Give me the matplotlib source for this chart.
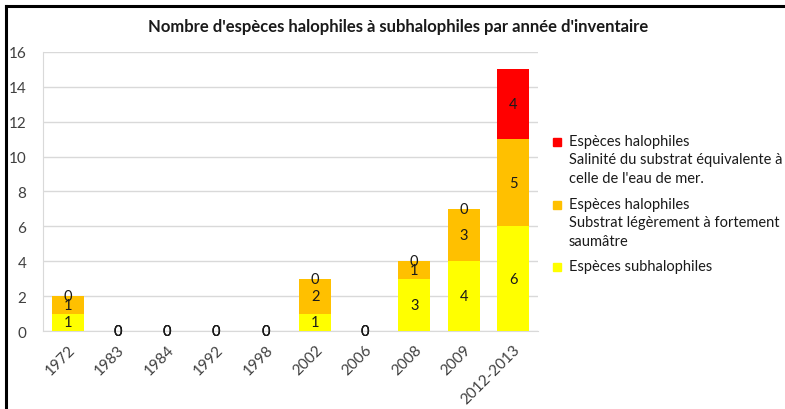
import matplotlib.pyplot as plt
import numpy as np

plt.rcParams['font.family'] = ['Lato', 'DejaVu Sans']

annees = ["1972", "1983", "1984", "1992", "1998", "2002", "2006", "2008", "2009", "2012-2013"]
subhalophiles = [1, 0, 0, 0, 0, 1, 0, 3, 4, 6]
halo_saumatre = [1, 0, 0, 0, 0, 2, 0, 1, 3, 5]
halo_mer = [0, 0, 0, 0, 0, 0, 0, 0, 0, 4]

series = [
    ("Espèces subhalophiles", subhalophiles, "#FFFF00"),
    ("Espèces halophiles\nSubstrat légèrement à fortement\nsaumâtre", halo_saumatre, "#FFC000"),
    ("Espèces halophiles\nSalinité du substrat équivalente à\ncelle de l'eau de mer.", halo_mer, "#FF0000"),
]

fig = plt.figure(figsize=(7.85, 4.10), dpi=100)
ax = fig.add_axes([0.0548, 0.19, 0.6305, 0.681])

x = np.arange(len(annees))
bottom = np.zeros(len(annees))
for label, vals, color in series:
    bars = ax.bar(x, vals, 0.64, bottom=bottom, color=color, label=label, zorder=3)
    ax.bar_label(bars, labels=[str(v) for v in vals], label_type='center',
                 fontsize=10.5, color='#1a1a1a', zorder=4)
    bottom += np.array(vals)

ax.set_xlim(-0.5, len(annees) - 0.5)
ax.set_ylim(0, 16)
ax.set_yticks(range(0, 17, 2))
ax.yaxis.grid(True, color='#d9d9d9', linewidth=1, zorder=0)
ax.set_xticks(x)
ax.set_xticklabels(annees, rotation=45, ha='right', va='top', rotation_mode='anchor')
ax.tick_params(axis='both', length=0, labelsize=11, colors='#404040')
ax.tick_params(axis='x', pad=8)
ax.tick_params(axis='y', pad=12)
for s in ['top', 'right']:
    ax.spines[s].set_visible(False)
for s in ['left', 'bottom']:
    ax.spines[s].set_color('#d9d9d9')

fig.text(0.507, 0.934, "Nombre d'espèces halophiles à subhalophiles par année d'inventaire",
         ha='center', va='center', fontsize=12, fontweight='bold', color='#1a1a1a')

# legende (ordre inverse comme dans Excel)
leg_y = [143, 206, 268]
for (label, vals, color), ly in zip(series[::-1], leg_y):
    fig.patches.append(plt.Rectangle((553 / 785, 1 - (ly + 4) / 410), 8 / 785, 8 / 410,
                                     transform=fig.transFigure, color=color))
    fig.text(569 / 785, 1 - (ly - 8) / 410, label, ha='left', va='top', fontsize=10.5,
             color='#1a1a1a', linespacing=1.4)

# cadre
fig.add_artist(plt.Line2D([5.5 / 785, 1], [1 - 6.5 / 410] * 2, color='black', lw=2.2,
                          transform=fig.transFigure))
fig.add_artist(plt.Line2D([5.5 / 785] * 2, [0, 1 - 6.5 / 410], color='black', lw=2.2,
                          transform=fig.transFigure))

fig.savefig("out.png", dpi=100)
